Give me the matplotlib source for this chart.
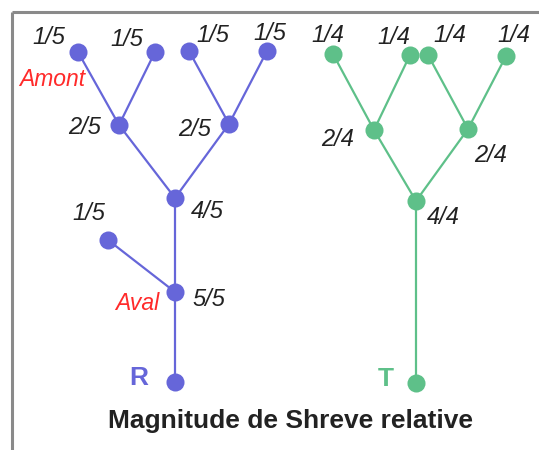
import matplotlib
matplotlib.use("Agg")
import matplotlib.pyplot as plt

plt.rcParams['font.family'] = ['Liberation Sans', 'DejaVu Sans']

# ---- data: tree R (relative Shreve magnitude, 5 sources) ----
r_x = [78, 155, 189, 267, 119, 229, 175, 108, 175, 175]
r_y = [52, 52, 51, 51, 125, 124, 198, 240, 292, 382]
r_edges = [(0, 4), (1, 4), (2, 5), (3, 5), (4, 6), (5, 6), (6, 8), (7, 8), (8, 9)]
r_labels = ["1/5", "1/5", "1/5", "1/5", "2/5", "2/5", "4/5", "1/5", "5/5"]
r_label_x = [49, 127, 213, 270, 85, 195, 207, 89, 209]
r_label_y = [38, 39, 36, 33, 128, 129, 212, 213, 300]

# ---- data: tree T (4 sources) ----
t_x = [333, 410, 428, 506, 374, 468, 416, 416]
t_y = [54, 55, 55, 56, 130, 129, 201, 383]
t_edges = [(0, 4), (1, 4), (2, 5), (3, 5), (4, 6), (5, 6), (6, 7)]
t_labels = ["1/4", "1/4", "1/4", "1/4", "2/4", "2/4", "4/4"]
t_label_x = [328, 394, 450, 514, 338, 491, 443]
t_label_y = [36, 37, 36, 36, 139, 156, 217]

blue = '#6666d9'
green = '#5ec089'
red = '#ff2a2a'
dark = '#222222'

fig = plt.figure(figsize=(5.39, 4.5), dpi=100)
ax = fig.add_axes([0, 0, 1, 1])
ax.set_xlim(0, 539)
ax.set_ylim(450, 0)
ax.axis('off')

# frame lines (top and left)
ax.plot([12, 539], [12, 12], color='#8a8a8a', lw=2.2, solid_capstyle='butt')
ax.plot([12, 12], [12, 450], color='#8a8a8a', lw=2.2, solid_capstyle='butt')

def draw_tree(xs, ys, edges, color):
    for a, b in edges:
        ax.plot([xs[a], xs[b]], [ys[a], ys[b]], color=color, lw=1.6, zorder=2)
    ax.plot(xs, ys, 'o', color=color, ms=13, mec='none', zorder=3)

draw_tree(r_x, r_y, r_edges, blue)
draw_tree(t_x, t_y, t_edges, green)

for lab, lx, ly in zip(r_labels, r_label_x, r_label_y):
    ax.text(lx, ly, lab, fontsize=17, style='italic', color=dark, ha='center', va='center')
for lab, lx, ly in zip(t_labels, t_label_x, t_label_y):
    ax.text(lx, ly, lab, fontsize=17, style='italic', color=dark, ha='center', va='center')

ax.text(52, 80, "Amont", fontsize=16.5, style='italic', color=red, ha='center', va='center')
ax.text(137, 303, "Aval", fontsize=16.5, style='italic', color=red, ha='center', va='center')
ax.text(139, 378, "R", fontsize=19, weight='bold', color=blue, ha='center', va='center')
ax.text(386, 379, "T", fontsize=19, weight='bold', color=green, ha='center', va='center')
ax.text(290, 421, "Magnitude de Shreve relative", fontsize=19, weight='bold', color=dark,
        ha='center', va='center')

fig.savefig('out.png', dpi=100)
